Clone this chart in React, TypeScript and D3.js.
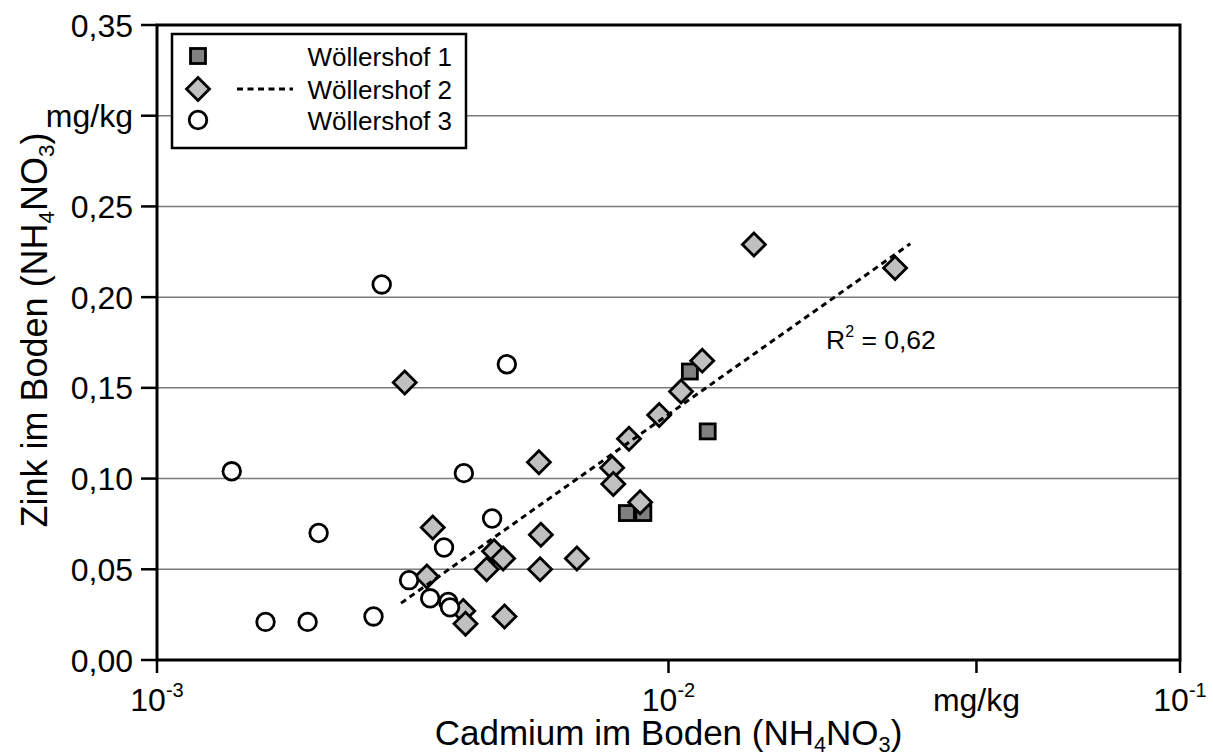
import React from 'react';
import * as d3 from 'd3';

// Wöllershof 1 (squares)
const W1_CD = [0.01101, 0.01193, 0.00829, 0.00893];
const W1_ZN = [0.159, 0.126, 0.081, 0.081];

// Wöllershof 2 (diamonds)
const W2_CD = [0.01469, 0.02773, 0.01164, 0.01058, 0.00959, 0.00837, 0.00776, 0.0078, 0.0088, 0.00662,
  0.00305, 0.00558, 0.00346, 0.00563, 0.00456, 0.00475, 0.00441, 0.00561, 0.00337, 0.00397, 0.00401, 0.00478];
const W2_ZN = [0.229, 0.216, 0.165, 0.148, 0.135, 0.122, 0.106, 0.097, 0.087, 0.056,
  0.153, 0.109, 0.073, 0.069, 0.06, 0.056, 0.05, 0.05, 0.046, 0.027, 0.02, 0.024];

// Wöllershof 3 (circles)
const W3_CD = [0.00275, 0.00483, 0.00398, 0.0014, 0.00452, 0.00207, 0.00364, 0.00311, 0.00342, 0.00371,
  0.00374, 0.00265, 0.00163, 0.00197];
const W3_ZN = [0.207, 0.163, 0.103, 0.104, 0.078, 0.07, 0.062, 0.044, 0.034, 0.032,
  0.029, 0.024, 0.021, 0.021];

const Y_TICKS = [0, 0.05, 0.1, 0.15, 0.2, 0.25, 0.3, 0.35];
const Y_TICK_LABELS = ['0,00', '0,05', '0,10', '0,15', '0,20', '0,25', 'mg/kg', '0,35'];
const X_TICKS = [0.001, 0.01, 0.04, 0.1];
const X_TICK_LABELS = [['10', '-3'], ['10', '-2'], ['mg/kg', ''], ['10', '-1']];

const SERIES_NAMES = ['Wöllershof 1', 'Wöllershof 2', 'Wöllershof 3'];

// trendline for Wöllershof 2: Zn = a + b * log10(Cd)
const TREND_A = 0.5334;
const TREND_B = 0.199;
const TREND_RANGE = [0.003, 0.0297];
const TREND_R2 = '0,62';

const FONT = '"Liberation Sans", Arial, sans-serif';

const left = 157, right = 1180, top = 25, bottom = 660;

const x = d3.scaleLog().domain([0.001, 0.1]).range([left, right]);
const y = d3.scaleLinear().domain([0, 0.35]).range([bottom, top]);

const Square = ({ cx, cy }: { cx: number; cy: number }) => (
  <rect x={cx - 7.5} y={cy - 7.5} width={15} height={15} fill="#808080" stroke="#000" strokeWidth={2.8} />
);
const Diamond = ({ cx, cy }: { cx: number; cy: number }) => (
  <path d={`M${cx},${cy - 11.5}L${cx + 11.5},${cy}L${cx},${cy + 11.5}L${cx - 11.5},${cy}Z`} fill="#c0c0c0" stroke="#000" strokeWidth={2.8} />
);
const Circle = ({ cx, cy }: { cx: number; cy: number }) => (
  <circle cx={cx} cy={cy} r={8.8} fill="#fff" stroke="#000" strokeWidth={2.8} />
);

const Chem = ({ size }: { size: number }) => (
  <>
    Boden (NH<tspan fontSize={size * 0.62} dy={size * 0.2}>4</tspan>
    <tspan dy={-size * 0.2}>NO</tspan>
    <tspan fontSize={size * 0.62} dy={size * 0.2}>3</tspan>
    <tspan dy={-size * 0.2}>)</tspan>
  </>
);

export default function App() {
  const trend = d3.line<number>()
    .x(d => x(d))
    .y(d => y(TREND_A + TREND_B * Math.log10(d)));

  return (
    <svg width={1213} height={756} style={{ position: 'absolute', left: 0, top: 0, background: '#fff' }}
      fontFamily={FONT}>
      {/* grid */}
      {Y_TICKS.slice(1, -1).map(t => (
        <line key={t} x1={left} x2={right} y1={y(t)} y2={y(t)} stroke="#7a7a7a" strokeWidth={1.5} />
      ))}

      {/* y ticks + labels */}
      {Y_TICKS.map((t, i) => (
        <g key={t}>
          <line x1={left - 16} x2={left} y1={y(t)} y2={y(t)} stroke="#000" strokeWidth={2.5} />
          <text x={133} y={y(t)} dy="0.36em" textAnchor="end" fontSize={32}>{Y_TICK_LABELS[i]}</text>
        </g>
      ))}

      {/* x ticks + labels */}
      {X_TICKS.map((t, i) => (
        <g key={t}>
          <line x1={x(t)} x2={x(t)} y1={bottom} y2={bottom + 13} stroke="#000" strokeWidth={2.5} />
          <text x={x(t)} y={711} textAnchor="middle" fontSize={32}>
            {X_TICK_LABELS[i][0]}
            {X_TICK_LABELS[i][1] && <tspan fontSize={20} dy={-14}>{X_TICK_LABELS[i][1]}</tspan>}
          </text>
        </g>
      ))}

      {/* frame */}
      <rect x={left} y={top} width={right - left} height={bottom - top} fill="none" stroke="#000" strokeWidth={3} />

      {/* markers */}
      {W1_CD.map((c, i) => <Square key={'a' + i} cx={x(c)} cy={y(W1_ZN[i])} />)}
      {W2_CD.map((c, i) => <Diamond key={'b' + i} cx={x(c)} cy={y(W2_ZN[i])} />)}
      {W3_CD.map((c, i) => <Circle key={'c' + i} cx={x(c)} cy={y(W3_ZN[i])} />)}

      {/* trendline */}
      <path d={trend(TREND_RANGE) || ''} fill="none" stroke="#000" strokeWidth={3} strokeDasharray="6 4.5" />
      <text x={826} y={349} fontSize={26.5}>
        R<tspan fontSize={16} dy={-12}>2</tspan><tspan dy={12}> = {TREND_R2}</tspan>
      </text>

      {/* legend */}
      <rect x={172} y={34} width={294} height={114} fill="#fff" stroke="#000" strokeWidth={2.5} />
      <Square cx={198} cy={56} />
      <Diamond cx={198} cy={89} />
      <Circle cx={198} cy={120} />
      <line x1={237} x2={293} y1={89} y2={89} stroke="#000" strokeWidth={3} strokeDasharray="6 4.5" />
      {SERIES_NAMES.map((n, i) => (
        <text key={n} x={452} y={[57, 90, 121][i]} dy="0.35em" textAnchor="end" fontSize={26}>{n}</text>
      ))}

      {/* axis titles */}
      <text x={(left + right) / 2} y={745} textAnchor="middle" fontSize={35}>
        Cadmium im <Chem size={35} />
      </text>
      <text transform={`translate(47,${330}) rotate(-90)`} textAnchor="middle" fontSize={36}>
        Zink im <Chem size={36} />
      </text>
    </svg>
  );
}
